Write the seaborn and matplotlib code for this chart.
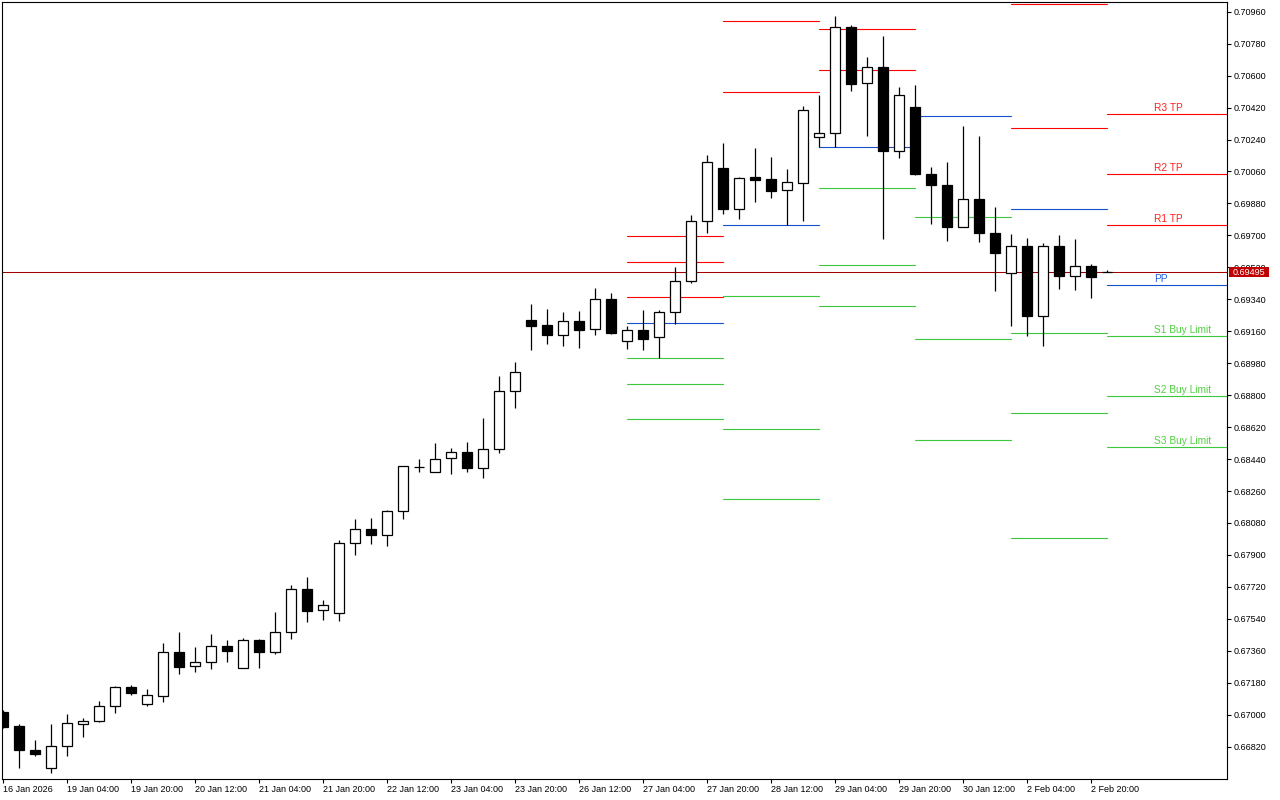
import numpy as np
import pandas as pd
import seaborn as sns
import matplotlib.pyplot as plt
from matplotlib.patches import Rectangle

# H4 candles, one per bar index (0 = 16 Jan, last = 3 Feb 00:00)
opens = [0.67014, 0.66934, 0.66799, 0.66698, 0.66822, 0.66946, 0.66963, 0.67047, 0.67154, 0.67059,
         0.67104, 0.67352, 0.67273, 0.67295, 0.67385, 0.67265, 0.67419, 0.67355, 0.67464, 0.67706,
         0.67588, 0.67571, 0.67966, 0.68044, 0.68015, 0.68146, 0.68396, 0.68369, 0.68444, 0.68482,
         0.68391, 0.68495, 0.68822, 0.69222, 0.69194, 0.69137, 0.69216, 0.69171, 0.69340, 0.69103,
         0.69165, 0.69126, 0.69267, 0.69441, 0.69779, 0.70078, 0.69850, 0.70027, 0.70016, 0.69954,
         0.69993, 0.70253, 0.70275, 0.70872, 0.70557, 0.70647, 0.70177, 0.70423, 0.70047, 0.69985,
         0.69746, 0.69905, 0.69715, 0.69486, 0.69640, 0.69248, 0.69640, 0.69470, 0.69526, 0.69495]
highs = [0.67027, 0.66946, 0.66858, 0.66948, 0.67004, 0.66981, 0.67077, 0.67160, 0.67167, 0.67145,
         0.67404, 0.67466, 0.67381, 0.67455, 0.67419, 0.67430, 0.67426, 0.67579, 0.67731, 0.67776,
         0.67646, 0.67984, 0.68102, 0.68108, 0.68153, 0.68401, 0.68439, 0.68530, 0.68502, 0.68536,
         0.68671, 0.68906, 0.68987, 0.69314, 0.69285, 0.69268, 0.69274, 0.69404, 0.69375, 0.69190,
         0.69280, 0.69280, 0.69522, 0.69815, 0.70153, 0.70220, 0.70029, 0.70192, 0.70142, 0.70074,
         0.70427, 0.70491, 0.70936, 0.70885, 0.70705, 0.70823, 0.70536, 0.70547, 0.70085, 0.70113,
         0.70316, 0.70260, 0.69860, 0.69708, 0.69685, 0.69657, 0.69702, 0.69680, 0.69540, 0.69507]
lows = [0.66925, 0.66701, 0.66769, 0.66673, 0.66769, 0.66876, 0.66961, 0.67011, 0.67113, 0.67051,
        0.67073, 0.67231, 0.67242, 0.67259, 0.67299, 0.67265, 0.67265, 0.67344, 0.67424, 0.67524,
        0.67535, 0.67530, 0.67901, 0.67963, 0.67952, 0.68101, 0.68369, 0.68369, 0.68358, 0.68369,
        0.68335, 0.68476, 0.68729, 0.69056, 0.69090, 0.69079, 0.69067, 0.69141, 0.69147, 0.69062,
        0.69056, 0.69009, 0.69199, 0.69430, 0.69715, 0.69822, 0.69794, 0.69890, 0.69912, 0.69757,
        0.69783, 0.70200, 0.70200, 0.70515, 0.70262, 0.69681, 0.70138, 0.70042, 0.69766, 0.69670,
        0.69746, 0.69664, 0.69388, 0.69191, 0.69135, 0.69079, 0.69400, 0.69394, 0.69349, 0.69495]
closes = [0.66932, 0.66803, 0.66780, 0.66824, 0.66952, 0.66963, 0.67047, 0.67154, 0.67124, 0.67109,
          0.67352, 0.67270, 0.67295, 0.67385, 0.67361, 0.67419, 0.67355, 0.67464, 0.67706, 0.67586,
          0.67616, 0.67966, 0.68044, 0.68015, 0.68146, 0.68399, 0.68394, 0.68442, 0.68482, 0.68391,
          0.68495, 0.68822, 0.68929, 0.69191, 0.69141, 0.69216, 0.69169, 0.69340, 0.69152, 0.69165,
          0.69118, 0.69267, 0.69441, 0.69779, 0.70112, 0.69850, 0.70022, 0.70014, 0.69952, 0.69999,
          0.70405, 0.70275, 0.70872, 0.70554, 0.70647, 0.70177, 0.70489, 0.70047, 0.69985, 0.69749,
          0.69905, 0.69715, 0.69602, 0.69640, 0.69248, 0.69640, 0.69473, 0.69526, 0.69467, 0.69495]

time_labels = ['16 Jan 2026', '19 Jan 04:00', '19 Jan 20:00', '20 Jan 12:00', '21 Jan 04:00',
               '21 Jan 20:00', '22 Jan 12:00', '23 Jan 04:00', '23 Jan 20:00', '26 Jan 12:00',
               '27 Jan 04:00', '27 Jan 20:00', '28 Jan 12:00', '29 Jan 04:00', '29 Jan 20:00',
               '30 Jan 12:00', '2 Feb 04:00', '2 Feb 20:00']
time_label_bars = [0, 4, 8, 12, 16, 20, 24, 28, 32, 36, 40, 44, 48, 52, 56, 60, 64, 68]

price_ticks = [0.66820, 0.67000, 0.67180, 0.67360, 0.67540, 0.67720, 0.67900, 0.68080,
               0.68260, 0.68440, 0.68620, 0.68800, 0.68980, 0.69160, 0.69340, 0.69520,
               0.69700, 0.69880, 0.70060, 0.70240, 0.70420, 0.70600, 0.70780, 0.70960]

# daily pivot levels, one value per day segment
seg_start = [39, 45, 51, 57, 63, 69]
seg_end = [45, 51, 57, 63, 69, 80]
r3 = [0.69695, 0.71655, 0.71295, 0.72314, 0.71443, 0.70382]
r2 = [0.69548, 0.70906, 0.70861, 0.71627, 0.71003, 0.70044]
r1 = [0.69351, 0.70506, 0.70630, 0.71058, 0.70303, 0.69757]
pp = [0.69205, 0.69757, 0.70196, 0.70371, 0.69847, 0.69419]
s1 = [0.69008, 0.69357, 0.69965, 0.69802, 0.69148, 0.69132]
s2 = [0.68861, 0.68608, 0.69532, 0.69115, 0.68698, 0.68794]
s3 = [0.68664, 0.68213, 0.69300, 0.68550, 0.67998, 0.68508]
level_names = ['R3 TP', 'R2 TP', 'R1 TP', 'PP', 'S1 Buy Limit', 'S2 Buy Limit', 'S3 Buy Limit']

last_price = 0.69495

sns.set_theme(style='white')
plt.rcParams['font.family'] = ['Liberation Sans', 'DejaVu Sans']

fig = plt.figure(figsize=(12.8, 8), dpi=100)
ax = fig.add_axes([2 / 1280, 21 / 800, 1225 / 1280, 777 / 800])

# pivot lines
line_colors = {'R': '#FF0000', 'P': '#1450C8', 'S': '#3CC83C'}
text_colors = {'R': '#FF2020', 'P': '#2060E0', 'S': '#50D040'}
levels = dict(zip(level_names, [r3, r2, r1, pp, s1, s2, s3]))
rows = []
for name, vals in levels.items():
    kind = 'R' if name.startswith('R') else ('P' if name == 'PP' else 'S')
    for k, v in enumerate(vals):
        for xx in (seg_start[k], seg_end[k]):
            rows.append({'x': xx, 'price': v, 'kind': kind, 'uid': f'{name}_{k}'})
df_levels = pd.DataFrame(rows)
sns.lineplot(data=df_levels, x='x', y='price', hue='kind', units='uid', estimator=None,
             palette=line_colors, legend=False, lw=0.8, ax=ax, zorder=1)

# current price line
ax.axhline(last_price, color='#A00000', lw=0.75, zorder=1)

# candles
o = np.array(opens)
c = np.array(closes)
idx = np.arange(len(o))
up = c >= o
body_lo = np.minimum(o, c)
body_h = np.abs(c - o)
ax.vlines(idx, lows, highs, color='black', lw=0.9, zorder=2)
ax.bar(idx[up], body_h[up], 0.62, bottom=body_lo[up], color='white', edgecolor='black', lw=0.9, zorder=3)
ax.bar(idx[~up], body_h[~up], 0.62, bottom=body_lo[~up], color='black', edgecolor='black', lw=0.9, zorder=3)

# labels on the latest pivot segment
label_x = 71.94
for name, vals in levels.items():
    kind = 'R' if name.startswith('R') else ('P' if name == 'PP' else 'S')
    ax.annotate(name, (label_x, vals[-1]), xytext=(0, 1), textcoords='offset pixels',
                ha='left', va='bottom', fontsize=7.3, color=text_colors[kind], zorder=4)

ax.set_xlim(-0.06, 76.5)
ax.set_ylim(0.666378, 0.710146)
ax.set_xlabel('')
ax.set_ylabel('')

ax.set_xticks(time_label_bars)
ax.set_xticklabels(time_labels, ha='left')
ax.yaxis.tick_right()
ax.set_yticks(price_ticks)
ax.set_yticklabels([f'{v:.5f}' for v in price_ticks])
ax.tick_params(axis='x', bottom=True, direction='out', length=3, width=0.8, colors='black',
               labelsize=6.5, pad=1.5)
ax.tick_params(axis='y', left=False, right=True, labelleft=False, labelright=True, direction='out',
               length=3, width=0.8, colors='black', labelsize=6.5, pad=1.5)
for sp in ax.spines.values():
    sp.set_color('black')
    sp.set_linewidth(0.8)

# price tag on the axis (covers the nearest tick label, as in the terminal)
tr = ax.get_yaxis_transform()
ax.add_patch(Rectangle((1.0016, last_price - 0.000296), 0.0327, 0.000592, transform=tr,
                       facecolor='#C00000', edgecolor='none', clip_on=False, zorder=5))
ax.text(1.0049, last_price, f'{last_price:.5f}', transform=tr, ha='left', va='center_baseline',
        color='white', fontsize=6.5, clip_on=False, zorder=6)

fig.savefig('out.png', dpi=100)
plt.close()
